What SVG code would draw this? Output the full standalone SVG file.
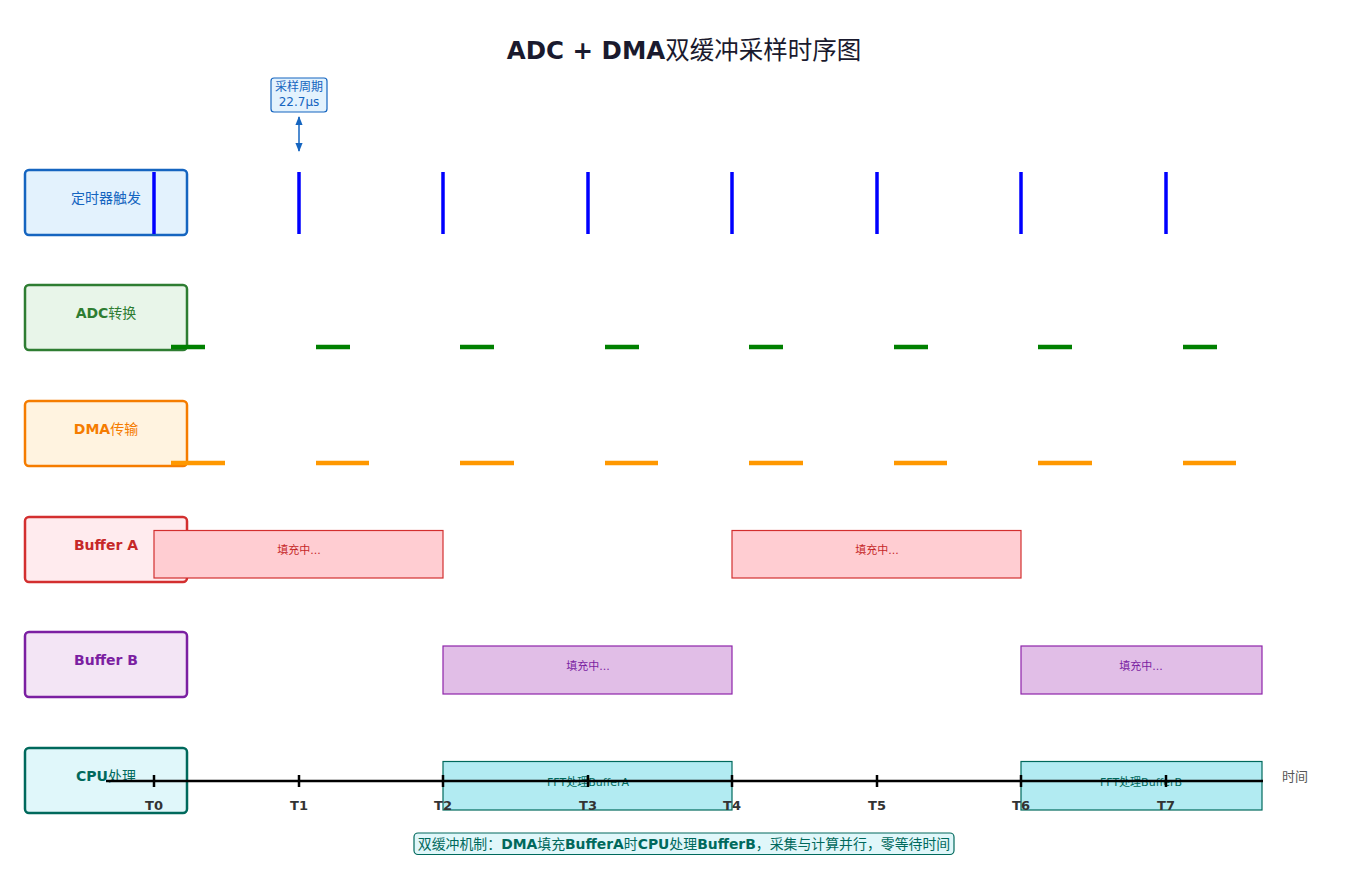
<svg xmlns="http://www.w3.org/2000/svg" width="1368" height="887" viewBox="0 0 1368 887">
<style>
text{font-family:"DejaVu Sans","Noto Sans CJK SC",sans-serif}
.b{font-weight:bold}
.lbl{font-size:14px;text-anchor:middle}
.lab{stroke-width:2.5}
.pulse{stroke:#0000ff;stroke-width:3.5}
.adc{stroke:#008000;stroke-width:4.5}
.dma{stroke:#ff9800;stroke-width:4.5}
.bufa{fill:#ffcdd2;stroke:#d32f2f;stroke-width:1.2}
.bufb{fill:#e1bee7;stroke:#8e24aa;stroke-width:1.2}
.cpu{fill:#b2ebf2;stroke:#00695c;stroke-width:1.2}
.small{font-size:11px;text-anchor:middle}
.tick{font-size:13px;font-weight:bold;fill:#333;text-anchor:middle}
</style>
<defs>
<marker id="ah" viewBox="0 0 10 10" refX="9" refY="5" markerWidth="6" markerHeight="6" orient="auto-start-reverse"><path d="M0,1 L10,5 L0,9 z" fill="#1565c0"/></marker>
</defs>
<rect width="1368" height="887" fill="#fff"/>
<text x="684" y="59" text-anchor="middle" font-size="24.5" fill="#1a1a2e"><tspan class="b">ADC + DMA</tspan>双缓冲采样时序图</text>

<g id="label-timer"><rect class="lab" x="25" y="170" width="162" height="65" rx="4" fill="#e3f2fd" stroke="#1565c0"/><text class="lbl" x="106" y="203" fill="#1565c0">定时器触发</text></g>
<g id="label-adc"><rect class="lab" x="25" y="285" width="162" height="65" rx="4" fill="#e8f5e9" stroke="#2e7d32"/><text class="lbl" x="106" y="318" fill="#2e7d32"><tspan class="b">ADC</tspan>转换</text></g>
<g id="label-dma"><rect class="lab" x="25" y="401" width="162" height="65" rx="4" fill="#fff3e0" stroke="#f57c00"/><text class="lbl" x="106" y="434" fill="#f57c00"><tspan class="b">DMA</tspan>传输</text></g>
<g id="label-bufa"><rect class="lab" x="25" y="517" width="162" height="65" rx="4" fill="#ffebee" stroke="#d32f2f"/><text class="lbl b" x="106" y="550" fill="#c62828">Buffer A</text></g>
<g id="label-bufb"><rect class="lab" x="25" y="632" width="162" height="65" rx="4" fill="#f3e5f5" stroke="#7b1fa2"/><text class="lbl b" x="106" y="665" fill="#7b1fa2">Buffer B</text></g>
<g id="label-cpu"><rect class="lab" x="25" y="748" width="162" height="65" rx="4" fill="#e0f7fa" stroke="#00695c"/><text class="lbl" x="106" y="781" fill="#00695c"><tspan class="b">CPU</tspan>处理</text></g>

<g id="timer-pulses">
<line class="pulse" x1="154" y1="172" x2="154" y2="234"/>
<line class="pulse" x1="299" y1="172" x2="299" y2="234"/>
<line class="pulse" x1="443" y1="172" x2="443" y2="234"/>
<line class="pulse" x1="588" y1="172" x2="588" y2="234"/>
<line class="pulse" x1="732" y1="172" x2="732" y2="234"/>
<line class="pulse" x1="877" y1="172" x2="877" y2="234"/>
<line class="pulse" x1="1021" y1="172" x2="1021" y2="234"/>
<line class="pulse" x1="1166" y1="172" x2="1166" y2="234"/>
</g>
<g id="adc-segs">
<line class="adc" x1="171" y1="347" x2="205" y2="347"/>
<line class="adc" x1="316" y1="347" x2="350" y2="347"/>
<line class="adc" x1="460" y1="347" x2="494" y2="347"/>
<line class="adc" x1="605" y1="347" x2="639" y2="347"/>
<line class="adc" x1="749" y1="347" x2="783" y2="347"/>
<line class="adc" x1="894" y1="347" x2="928" y2="347"/>
<line class="adc" x1="1038" y1="347" x2="1072" y2="347"/>
<line class="adc" x1="1183" y1="347" x2="1217" y2="347"/>
</g>
<g id="dma-segs">
<line class="dma" x1="171" y1="463" x2="225" y2="463"/>
<line class="dma" x1="316" y1="463" x2="369" y2="463"/>
<line class="dma" x1="460" y1="463" x2="514" y2="463"/>
<line class="dma" x1="605" y1="463" x2="658" y2="463"/>
<line class="dma" x1="749" y1="463" x2="803" y2="463"/>
<line class="dma" x1="894" y1="463" x2="947" y2="463"/>
<line class="dma" x1="1038" y1="463" x2="1092" y2="463"/>
<line class="dma" x1="1183" y1="463" x2="1236" y2="463"/>
</g>

<g id="bufa-1"><rect class="bufa" x="154" y="530.5" width="289" height="47.5"/><text class="small" x="299" y="554" fill="#c62828">填充中...</text></g>
<g id="bufa-2"><rect class="bufa" x="732" y="530.5" width="289" height="47.5"/><text class="small" x="877" y="554" fill="#c62828">填充中...</text></g>
<g id="bufb-1"><rect class="bufb" x="443" y="646" width="289" height="48"/><text class="small" x="588" y="670" fill="#7b1fa2">填充中...</text></g>
<g id="bufb-2"><rect class="bufb" x="1021" y="646" width="241" height="48"/><text class="small" x="1141" y="670" fill="#7b1fa2">填充中...</text></g>
<g id="cpu-1"><rect class="cpu" x="443" y="761.5" width="289" height="48.5"/><text class="small" x="588" y="786" fill="#00695c">FFT处理BufferA</text></g>
<g id="cpu-2"><rect class="cpu" x="1021" y="761.5" width="241" height="48.5"/><text class="small" x="1141" y="786" fill="#00695c">FFT处理BufferB</text></g>

<g id="connectors">
<line x1="106" y1="781" x2="1263" y2="781" stroke="#000" stroke-width="2.5"/>
<g stroke="#000" stroke-width="2.5">
<line x1="154" y1="775" x2="154" y2="787"/>
<line x1="299" y1="775" x2="299" y2="787"/>
<line x1="443" y1="775" x2="443" y2="787"/>
<line x1="588" y1="775" x2="588" y2="787"/>
<line x1="732" y1="775" x2="732" y2="787"/>
<line x1="877" y1="775" x2="877" y2="787"/>
<line x1="1021" y1="775" x2="1021" y2="787"/>
<line x1="1166" y1="775" x2="1166" y2="787"/>
</g>
<line x1="299" y1="117" x2="299" y2="151" stroke="#1565c0" stroke-width="1.5" marker-start="url(#ah)" marker-end="url(#ah)"/>
</g>
<g id="ticks">
<text class="tick" x="154" y="810">T0</text>
<text class="tick" x="299" y="810">T1</text>
<text class="tick" x="443" y="810">T2</text>
<text class="tick" x="588" y="810">T3</text>
<text class="tick" x="732" y="810">T4</text>
<text class="tick" x="877" y="810">T5</text>
<text class="tick" x="1021" y="810">T6</text>
<text class="tick" x="1166" y="810">T7</text>
<text x="1295" y="781" font-size="13" fill="#555" text-anchor="middle">时间</text>
</g>

<g id="period-note"><rect x="271" y="78" width="56" height="34" rx="3" fill="#e3f2fd" stroke="#1565c0" stroke-width="1.2"/><text x="299" y="91" font-size="12" fill="#1565c0" text-anchor="middle">采样周期</text><text x="299" y="106" font-size="12" fill="#1565c0" text-anchor="middle">22.7μs</text></g>

<g id="bottom-note"><rect x="414" y="833" width="540" height="21.5" rx="4" fill="#e0f7fa" stroke="#00695c" stroke-width="1.2"/><text x="684" y="849" font-size="13.9" fill="#00695c" text-anchor="middle">双缓冲机制：<tspan class="b">DMA</tspan>填充<tspan class="b">BufferA</tspan>时<tspan class="b">CPU</tspan>处理<tspan class="b">BufferB</tspan>，采集与计算并行，零等待时间</text></g>
</svg>
